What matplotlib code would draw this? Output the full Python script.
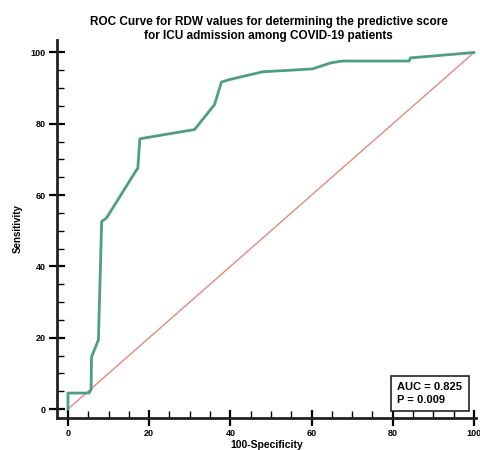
import matplotlib
matplotlib.use("Agg")
import matplotlib.pyplot as plt
from matplotlib.ticker import MultipleLocator

# Data
fpr = [0, 0, 5.2, 5.7, 5.8, 7.5, 8.3, 9.5, 16.9, 17.2, 17.7, 31.2, 36.1, 37.8,
       39.8, 48.0, 54.5, 60.2, 64.8, 67.6, 84.0, 84.4, 89.8, 100]
tpr = [0, 4.5, 4.5, 5.5, 14.6, 19.4, 52.6, 53.6, 67.1, 67.5, 75.8, 78.4, 85.4, 91.7,
       92.4, 94.6, 95.0, 95.4, 97.1, 97.6, 97.6, 98.5, 99.0, 100]
diag = [0, 100]
x_ticks = [0, 20, 40, 60, 80, 100]
y_ticks = [0, 20, 40, 60, 80, 100]
title = "ROC Curve for RDW values for determining the predictive score\nfor ICU admission among COVID-19 patients"
auc_text = "AUC = 0.825\nP = 0.009"

plt.rcParams['font.family'] = ['Liberation Sans', 'DejaVu Sans']

fig = plt.figure(figsize=(4.8, 4.5), dpi=100)
ax = fig.add_axes([57/480, 1-418/450, (476-57)/480, (418-40)/450])

ax.plot(diag, diag, color="#e08a80", lw=1.0, zorder=2)
ax.plot(fpr, tpr, color="#4e9e84", lw=2.0, zorder=3)

ax.set_xlim(-2.7, 100.5)
ax.set_ylim(-2.5, 103.5)
ax.set_xticks(x_ticks)
ax.set_yticks(y_ticks)
ax.xaxis.set_minor_locator(MultipleLocator(5))
ax.yaxis.set_minor_locator(MultipleLocator(5))
ax.tick_params(which='major', direction='inout', length=12, width=1.6,
               labelsize=6.5, pad=2)
ax.tick_params(which='minor', direction='in', length=5, width=1.0)
for lab in ax.get_xticklabels() + ax.get_yticklabels():
    lab.set_fontweight('bold')

for s in ['top', 'right']:
    ax.spines[s].set_visible(False)
for s in ['left', 'bottom']:
    ax.spines[s].set_linewidth(2.0)
    ax.spines[s].set_color('#222222')

ax.set_xlabel("100-Specificity", fontsize=7.5, fontweight='bold', labelpad=1)
ax.set_ylabel("Sensitivity", fontsize=7, fontweight='bold', labelpad=6)
fig.suptitle(title, fontsize=8.5, fontweight='bold', x=0.56, y=0.965, linespacing=1.25)

ax.text(0.89, 0.035, auc_text, transform=ax.transAxes, ha='center', va='bottom',
        fontsize=8, fontweight='bold', linespacing=1.3, multialignment='left',
        bbox=dict(boxstyle='square,pad=0.6', fc='white', ec='#222222', lw=1.2),
        zorder=5)

fig.savefig("out.png", dpi=100)
